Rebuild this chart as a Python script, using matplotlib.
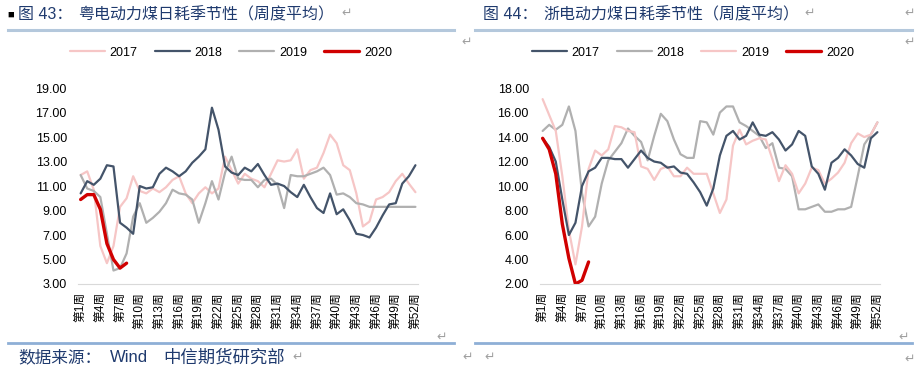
import matplotlib
matplotlib.use('Agg')
import matplotlib.pyplot as plt
from matplotlib.lines import Line2D

plt.rcParams['font.family'] = ['Liberation Sans', 'Noto Sans CJK SC', 'DejaVu Sans']

weeks = list(range(1, 53))
tick_weeks = list(range(1, 53, 3))
tick_labels = ['第' + str(w) + '周' for w in tick_weeks]

# 粤电 (left chart)
gd_2017 = [11.9, 12.2, 10.7, 6.1, 4.7, 6.1, 9.3, 10.0, 11.8, 10.6,
           10.4, 10.8, 10.5, 10.9, 11.5, 11.8, 10.4, 9.6, 10.4, 10.9,
           10.4, 10.8, 13.4, 12.3, 11.2, 12.0, 11.6, 11.4, 10.9, 12.0,
           13.1, 13.0, 13.1, 14.0, 11.6, 12.3, 12.5, 13.7, 15.2, 14.5,
           12.7, 12.3, 10.4, 7.7, 8.1, 9.9, 10.1, 10.5, 11.4, 12.0,
           11.2, 10.5]
gd_2018 = [10.4, 11.4, 11.1, 11.6, 12.7, 12.6, 8.0, 7.6, 7.1, 11.0,
           10.8, 10.9, 12.0, 12.5, 12.2, 11.8, 12.2, 12.9, 13.4, 14.0,
           17.4, 15.6, 12.6, 12.1, 11.9, 12.5, 12.2, 12.8, 11.9, 11.1,
           11.2, 11.0, 10.5, 10.1, 11.1, 10.1, 9.2, 8.8, 10.4, 8.7,
           9.1, 8.2, 7.1, 7.0, 6.8, 7.6, 8.6, 9.5, 9.6, 11.2,
           11.8, 12.7]
gd_2019 = [11.9, 10.8, 10.6, 10.1, 7.1, 4.1, 4.3, 5.5, 8.5, 9.6,
           8.0, 8.4, 8.9, 9.6, 10.7, 10.4, 10.3, 9.9, 8.0, 9.6,
           11.4, 9.9, 12.1, 13.4, 11.6, 11.5, 11.5, 10.9, 11.5, 11.6,
           11.1, 9.2, 11.9, 11.8, 11.8, 12.0, 12.2, 12.5, 11.9, 10.3,
           10.4, 10.1, 9.6, 9.5, 9.3, 9.3, 9.3, 9.3, 9.3, 9.3,
           9.3, 9.3]
gd_2020 = [9.9, 10.3, 10.3, 9.1, 6.3, 5.0, 4.3, 4.7]

# 浙电 (right chart)
zj_2017 = [13.9, 13.2, 12.0, 8.9, 6.0, 7.0, 10.0, 11.2, 11.5, 12.3,
           12.3, 12.2, 12.2, 11.5, 12.2, 12.9, 12.3, 12.0, 11.9, 11.5,
           11.6, 11.1, 11.0, 10.3, 9.5, 8.4, 9.8, 12.5, 14.1, 14.5,
           13.8, 14.1, 15.2, 14.2, 14.1, 14.4, 13.8, 12.9, 13.4, 14.5,
           14.1, 11.6, 11.0, 9.7, 11.9, 12.3, 13.0, 12.5, 11.8, 11.5,
           13.9, 14.4]
zj_2018 = [14.5, 15.0, 14.6, 15.0, 16.5, 14.5, 9.4, 6.7, 7.5, 10.2,
           12.1, 12.8, 13.5, 14.7, 14.1, 13.6, 12.1, 14.1, 15.9, 15.3,
           13.8, 12.6, 12.3, 12.3, 15.3, 15.2, 14.2, 16.0, 16.5, 16.5,
           15.2, 14.9, 14.5, 14.1, 13.1, 13.5, 11.5, 11.4, 10.8, 8.1,
           8.1, 8.3, 8.5, 7.9, 7.9, 8.1, 8.1, 8.3, 10.8, 13.4,
           14.2, 15.2]
zj_2019 = [17.1, 15.8, 14.5, 10.8, 6.4, 3.6, 6.7, 11.4, 12.9, 12.5,
           13.0, 14.9, 14.8, 14.5, 14.4, 11.6, 11.4, 10.5, 11.4, 11.6,
           10.8, 10.8, 11.5, 11.0, 11.0, 11.0, 9.4, 7.8, 8.9, 13.3,
           14.6, 13.4, 13.7, 13.9, 13.8, 12.2, 10.4, 11.7, 11.0, 9.4,
           10.2, 11.5, 11.3, 10.2, 10.6, 11.1, 11.9, 13.5, 14.3, 14.0,
           14.2, 15.2]
zj_2020 = [13.9, 13.0, 11.0, 6.9, 4.1, 2.0, 2.3, 3.8]

navy = '#1F3A6E'
dark = '#44546A'
grey = '#B0B0B0'
pink = '#F6C6C6'
red = '#D00000'
mark = '#A0A0A0'

fig = plt.figure(figsize=(9.19, 3.76), dpi=100)


def draw_panel(left, series, ylim, yticks):
    ax = fig.add_axes([left, 0.2447, 0.370, 0.521])
    for vals, color, lw, label in series:
        ax.plot(weeks[:len(vals)], vals, color=color, lw=lw, label=label,
                solid_capstyle='round')
    ax.set_xlim(0.6, 52.4)
    ax.set_ylim(ylim)
    ax.set_yticks(yticks)
    ax.set_yticklabels(['%.2f' % v for v in yticks], fontsize=9)
    ax.set_xticks(tick_weeks)
    ax.set_xticklabels(tick_labels, rotation=90, fontsize=8.5)
    for s in ['top', 'right', 'left']:
        ax.spines[s].set_visible(False)
    ax.spines['bottom'].set_color('#D9D9D9')
    ax.tick_params(length=0)
    ax.tick_params(axis='y', pad=8)
    ax.tick_params(axis='x', pad=6)
    # legend in year order
    h, l = ax.get_legend_handles_labels()
    order = [l.index(y) for y in ['2017', '2018', '2019', '2020']]
    ax.legend([h[i] for i in order], [l[i] for i in order], loc='center',
              bbox_to_anchor=(0.45, 1.18), ncol=4, frameon=False, fontsize=9,
              handlelength=2.8, handletextpad=0.4, columnspacing=1.35)
    return ax


draw_panel(0.0849,
           [(gd_2017, pink, 1.6, '2017'), (gd_2019, grey, 1.6, '2019'),
            (gd_2018, dark, 1.6, '2018'), (gd_2020, red, 2.4, '2020')],
           (3, 19), [3, 5, 7, 9, 11, 13, 15, 17, 19])
draw_panel(0.5876,
           [(zj_2018, grey, 1.6, '2018'), (zj_2019, pink, 1.6, '2019'),
            (zj_2017, dark, 1.6, '2017'), (zj_2020, red, 2.4, '2020')],
           (2, 18), [2, 4, 6, 8, 10, 12, 14, 16, 18])

W, H = 919.0, 376.0


def fx(px):
    return px / W


def fy(py):
    return 1 - py / H


# titles
fig.text(fx(7), fy(15), '■', fontsize=8, color='black', va='center')
fig.text(fx(18), fy(15), '图 43：', fontsize=11.5, color=navy, va='center')
fig.text(fx(78), fy(15), '粤电动力煤日耗季节性（周度平均）',
         fontsize=11.5, color=navy, va='center')
fig.text(fx(483), fy(15), '图 44：', fontsize=11.5, color=navy, va='center')
fig.text(fx(543), fy(15), '浙电动力煤日耗季节性（周度平均）',
         fontsize=11.5, color=navy, va='center')

# rules
fig.add_artist(Line2D([fx(8), fx(454)], [fy(30), fy(30)], color='#B4C8DC', lw=2.2))
fig.add_artist(Line2D([fx(475), fx(912)], [fy(30), fy(30)], color='#B4C8DC', lw=2.2))
fig.add_artist(Line2D([fx(8), fx(454)], [fy(343), fy(343)], color='#8EAFD6', lw=2.0))
fig.add_artist(Line2D([fx(475), fx(912)], [fy(343), fy(343)], color='#8EAFD6', lw=2.0))

# source
fig.text(fx(18), fy(357), '数据来源：', fontsize=12, color=navy, va='center')
fig.text(fx(110), fy(357), 'Wind', fontsize=12, color=navy, va='center')
fig.text(fx(163), fy(357), '中信期货研究部', fontsize=12.5, color=navy,
         va='center')

# paragraph marks
for x, y in [(341, 13), (804, 13), (904, 13), (461, 42), (904, 42),
             (436, 337), (898, 337), (292, 357), (462, 357), (484, 357),
             (904, 359)]:
    fig.text(fx(x), fy(y), '↵', fontsize=9, color=mark, va='center',
             family=['DejaVu Sans'])

fig.savefig('out.png', dpi=100)
